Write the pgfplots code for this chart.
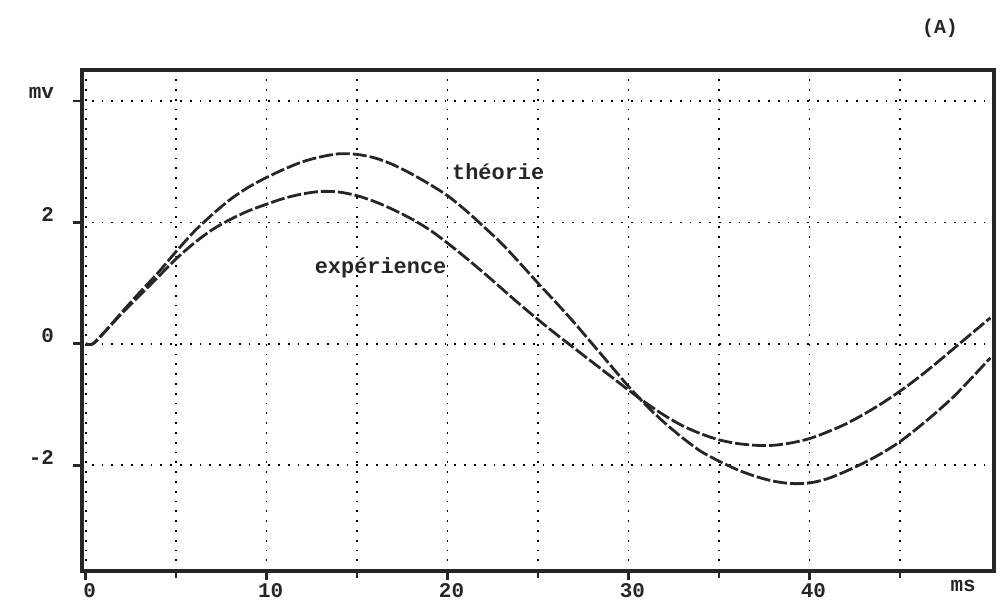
\documentclass[border=0pt]{standalone}
\usepackage{fontspec}
\setmainfont{Liberation Mono}
\usepackage{pgfplots}
\pgfplotsset{compat=1.18}
\begin{document}
\begin{tikzpicture}
\useasboundingbox (0,0) rectangle (503.5bp,302.5bp);
\begin{axis}[
  at={(41bp,17bp)}, anchor=south west,
  scale only axis, width=456bp, height=250.5bp,
  xmin=-0.2, xmax=50.2, ymin=-3.74, ymax=4.51,
  axis line style={line width=1.8bp, black!85},
  xtick={0,10,20,30,40}, minor xtick={5,15,25,35,45},
  ytick={-2,0,2,4}, yticklabels={-2,0,2,mv},
  tick align=outside, tick pos=left,
  major tick length=4.5bp, minor tick length=3.5bp,
  every tick/.style={line width=1.4bp, black!85},
  grid=both,
  major grid style={black, line width=0.9bp, dash pattern=on 0.9bp off 4bp},
  minor grid style={black, line width=0.9bp, dash pattern=on 0.9bp off 4bp},
  ticklabel style={font=\bfseries\fontsize{10.5}{12}\selectfont, text=black!85},
  xticklabel style={yshift=1.8bp, xshift=2bp},
  yticklabel style={yshift=4bp, xshift=-6bp},
  /pgf/number format/assume math mode=true,
  clip=false,
]
% theorie
\addplot[black!85, line width=1.4bp, dash pattern=on 7bp off 1.5bp, smooth] coordinates {
(0,0) (0.4,0) (1,0.18) (2,0.52) (3,0.85) (4,1.17) (5,1.52) (6,1.85) (7,2.13) (8,2.38) (9,2.58)
(10,2.74) (11,2.88) (12,3.0) (13,3.08) (14,3.13) (15,3.12) (16,3.06) (17,2.95) (18,2.8) (19,2.63)
(20,2.44) (21,2.2) (22,1.93) (23,1.65) (24,1.33) (25,1.0) (26,0.68) (27,0.35) (28,0.0) (29,-0.35)
(30,-0.7) (31,-1.02) (32,-1.3) (33,-1.55) (34,-1.77) (35,-1.93) (36,-2.07) (37,-2.18) (38,-2.26) (39,-2.3)
(40,-2.29) (41,-2.22) (42,-2.1) (43,-1.96) (44,-1.8) (45,-1.61) (46,-1.38) (47,-1.13) (48,-0.86) (49,-0.55) (50,-0.23)
};
% experience
\addplot[black!85, line width=1.4bp, dash pattern=on 7bp off 1.5bp, smooth] coordinates {
(0,0) (0.4,0) (1,0.18) (2,0.5) (3,0.8) (4,1.1) (5,1.4) (6,1.66) (7,1.88) (8,2.05) (9,2.19)
(10,2.3) (11,2.4) (12,2.47) (13,2.51) (14,2.5) (15,2.44) (16,2.34) (17,2.21) (18,2.06) (19,1.88)
(20,1.66) (21,1.42) (22,1.17) (23,0.91) (24,0.65) (25,0.4) (26,0.16) (27,-0.07) (28,-0.3) (29,-0.53)
(30,-0.76) (31,-0.98) (32,-1.18) (33,-1.35) (34,-1.48) (35,-1.58) (36,-1.64) (37,-1.67) (38,-1.67) (39,-1.63)
(40,-1.56) (41,-1.45) (42,-1.32) (43,-1.16) (44,-0.98) (45,-0.78) (46,-0.56) (47,-0.32) (48,-0.07) (49,0.18) (50,0.43)
};
\node[font=\bfseries\fontsize{11}{13}\selectfont, text=black!85] at (axis cs:22.8,2.83) {théorie};
\node[font=\bfseries\fontsize{11}{13}\selectfont, text=black!85] at (axis cs:16.3,1.25) {expérience};
\node[font=\bfseries\fontsize{10.5}{12}\selectfont, text=black!85, anchor=north] at (axis cs:48.5,-3.74) [yshift=-1bp] {ms};
\end{axis}
\node[font=\bfseries\fontsize{10}{12}\selectfont, text=black!85] at (470bp,288.5bp) {(A)};
\end{tikzpicture}
\end{document}
